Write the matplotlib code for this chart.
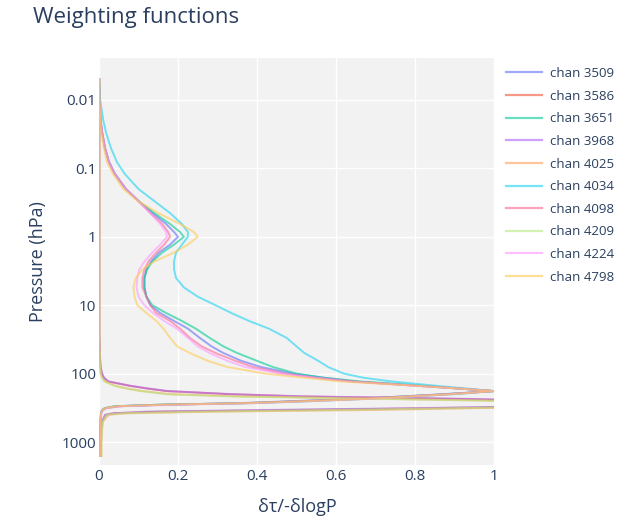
import matplotlib
matplotlib.use("Agg")
import matplotlib.pyplot as plt
from matplotlib.lines import Line2D

plt.rcParams['font.family'] = ['Open Sans', 'DejaVu Sans']

# ---------------- data ----------------
P_LEVELS = [0.005, 0.01, 0.02, 0.03, 0.05, 0.08, 0.12, 0.2, 0.3, 0.45,
            0.65, 0.85, 1.0, 1.3, 1.7, 2.3, 3.0, 4.0, 5.5, 7.5,
            10, 13, 17, 22, 30, 40, 50, 65, 80, 100,
            115, 130, 150, 165, 180, 200, 215, 235, 255, 270,
            285, 300, 320, 340, 360, 380, 400, 500, 700, 1000, 1600]

CHANNELS = ['chan 3509', 'chan 3586', 'chan 3651', 'chan 3968', 'chan 4025',
            'chan 4034', 'chan 4098', 'chan 4209', 'chan 4224', 'chan 4798']

chan_3509 = [0.0, 0.001, 0.004, 0.008, 0.015, 0.025, 0.04, 0.068, 0.10, 0.135,
             0.17, 0.19, 0.20, 0.18, 0.152, 0.132, 0.12, 0.115, 0.115, 0.12,
             0.13, 0.155, 0.19, 0.225, 0.255, 0.285, 0.315, 0.36, 0.41, 0.49,
             0.57, 0.645, 0.80, 0.91, 1.0, 0.87, 0.77, 0.64, 0.47, 0.36,
             0.17, 0.05, 0.018, 0.01, 0.007, 0.006, 0.005, 0.004, 0.004, 0.004, 0.004]

chan_3586 = [0.001, 0.001, 0.001, 0.001, 0.001, 0.001, 0.001, 0.001, 0.001, 0.001,
             0.001, 0.001, 0.001, 0.001, 0.001, 0.001, 0.001, 0.001, 0.001, 0.001,
             0.001, 0.001, 0.001, 0.001, 0.001, 0.002, 0.002, 0.003, 0.004, 0.007,
             0.012, 0.022, 0.075, 0.12, 0.17, 0.33, 0.50, 0.92, 1.2, 1.3,
             1.3, 1.15, 0.85, 0.5, 0.15, 0.04, 0.018, 0.008, 0.006, 0.005, 0.005]

chan_3651 = [0.0, 0.001, 0.004, 0.008, 0.015, 0.025, 0.04, 0.068, 0.10, 0.14,
             0.18, 0.205, 0.215, 0.19, 0.16, 0.135, 0.122, 0.115, 0.115, 0.12,
             0.135, 0.17, 0.21, 0.245, 0.28, 0.315, 0.35, 0.40, 0.44, 0.50,
             0.57, 0.66, 0.82, 0.91, 1.0, 0.88, 0.78, 0.66, 0.50, 0.37,
             0.15, 0.04, 0.014, 0.008, 0.006, 0.005, 0.005, 0.004, 0.004, 0.003, 0.003]

chan_3968 = [0.001, 0.001, 0.001, 0.001, 0.001, 0.001, 0.001, 0.001, 0.001, 0.001,
             0.001, 0.001, 0.001, 0.001, 0.001, 0.001, 0.001, 0.001, 0.001, 0.001,
             0.001, 0.001, 0.001, 0.001, 0.001, 0.002, 0.002, 0.003, 0.004, 0.008,
             0.013, 0.024, 0.078, 0.125, 0.175, 0.34, 0.52, 0.95, 1.2, 1.3,
             1.25, 1.1, 0.8, 0.42, 0.12, 0.035, 0.015, 0.008, 0.006, 0.005, 0.005]

chan_4025 = [0.001, 0.001, 0.001, 0.001, 0.001, 0.001, 0.001, 0.001, 0.001, 0.001,
             0.001, 0.001, 0.001, 0.001, 0.001, 0.001, 0.001, 0.001, 0.001, 0.001,
             0.001, 0.001, 0.001, 0.001, 0.001, 0.001, 0.002, 0.002, 0.003, 0.004,
             0.008, 0.015, 0.04, 0.07, 0.11, 0.18, 0.35, 0.75, 1.1, 1.3,
             1.35, 1.25, 0.95, 0.7, 0.3, 0.07, 0.025, 0.01, 0.007, 0.006, 0.006]

chan_4034 = [0.0, 0.003, 0.011, 0.018, 0.03, 0.045, 0.065, 0.10, 0.14, 0.18,
             0.21, 0.225, 0.225, 0.21, 0.195, 0.19, 0.19, 0.195, 0.215, 0.25,
             0.295, 0.335, 0.38, 0.43, 0.475, 0.50, 0.52, 0.555, 0.58, 0.62,
             0.67, 0.74, 0.85, 0.93, 1.0, 0.90, 0.80, 0.67, 0.52, 0.39,
             0.15, 0.04, 0.015, 0.008, 0.006, 0.005, 0.004, 0.004, 0.003, 0.003, 0.003]

chan_4098 = [0.0, 0.001, 0.004, 0.008, 0.015, 0.025, 0.04, 0.068, 0.10, 0.13,
             0.16, 0.175, 0.18, 0.165, 0.145, 0.125, 0.115, 0.11, 0.11, 0.12,
             0.13, 0.145, 0.18, 0.205, 0.23, 0.26, 0.295, 0.345, 0.39, 0.47,
             0.55, 0.64, 0.80, 0.91, 1.0, 0.88, 0.78, 0.65, 0.49, 0.37,
             0.16, 0.045, 0.016, 0.009, 0.006, 0.005, 0.005, 0.004, 0.004, 0.003, 0.003]

chan_4209 = [0.001, 0.001, 0.001, 0.001, 0.001, 0.001, 0.001, 0.001, 0.001, 0.001,
             0.001, 0.001, 0.001, 0.001, 0.001, 0.001, 0.001, 0.001, 0.001, 0.001,
             0.001, 0.001, 0.001, 0.001, 0.001, 0.001, 0.002, 0.002, 0.003, 0.004,
             0.007, 0.014, 0.038, 0.068, 0.105, 0.17, 0.33, 0.72, 1.1, 1.3,
             1.35, 1.2, 0.9, 0.6, 0.25, 0.06, 0.02, 0.009, 0.007, 0.006, 0.006]

chan_4224 = [0.0, 0.001, 0.004, 0.008, 0.015, 0.025, 0.04, 0.068, 0.10, 0.13,
             0.155, 0.17, 0.172, 0.155, 0.135, 0.115, 0.102, 0.097, 0.095, 0.10,
             0.115, 0.137, 0.165, 0.197, 0.225, 0.25, 0.28, 0.325, 0.37, 0.46,
             0.55, 0.63, 0.80, 0.91, 1.0, 0.89, 0.80, 0.68, 0.52, 0.40,
             0.20, 0.06, 0.02, 0.01, 0.007, 0.005, 0.005, 0.004, 0.004, 0.003, 0.003]

chan_4798 = [0.0, 0.001, 0.003, 0.006, 0.012, 0.02, 0.035, 0.062, 0.098, 0.15,
             0.205, 0.24, 0.25, 0.225, 0.19, 0.14, 0.11, 0.093, 0.087, 0.09,
             0.097, 0.12, 0.145, 0.163, 0.18, 0.198, 0.23, 0.275, 0.325, 0.42,
             0.52, 0.61, 0.80, 0.91, 1.0, 0.89, 0.79, 0.67, 0.50, 0.38,
             0.16, 0.045, 0.016, 0.009, 0.006, 0.005, 0.005, 0.004, 0.004, 0.003, 0.003]

SERIES = [chan_3509, chan_3586, chan_3651, chan_3968, chan_4025,
          chan_4034, chan_4098, chan_4209, chan_4224, chan_4798]

X_TICKS = [0, 0.2, 0.4, 0.6, 0.8, 1]
X_TICK_LABELS = ['0', '0.2', '0.4', '0.6', '0.8', '1']
Y_TICKS = [0.01, 0.1, 1, 10, 100, 1000]
Y_TICK_LABELS = ['0.01', '0.1', '1', '10', '100', '1000']

COLORS = ['#636EFA', '#EF553B', '#00CC96', '#AB63FA', '#FFA15A',
          '#19D3F3', '#FF6692', '#B6E880', '#FF97FF', '#FECB52']

TEXT_COLOR = '#2a3f5f'

# ---------------- figure ----------------
W, H = 625, 522
fig = plt.figure(figsize=(W / 100, H / 100), dpi=100)
fig.patch.set_facecolor('white')
ax = fig.add_axes([99 / W, 1 - 465 / H, (494 - 99) / W, (465 - 58) / H])
ax.set_facecolor('#f2f2f2')

for name, vals, col in zip(CHANNELS, SERIES, COLORS):
    ax.plot(vals, P_LEVELS, color=col, alpha=0.6, lw=1.4, label=name,
            solid_joinstyle='round')

ax.set_yscale('log')
ax.set_xlim(0, 1)
ax.set_ylim(10 ** 3.336, 10 ** -2.614)
ax.set_xticks(X_TICKS)
ax.set_xticklabels(X_TICK_LABELS)
ax.set_yticks(Y_TICKS)
ax.set_yticklabels(Y_TICK_LABELS)
ax.minorticks_off()
ax.tick_params(axis='both', length=0, labelsize=11, labelcolor=TEXT_COLOR)
ax.tick_params(axis='x', pad=3)
ax.tick_params(axis='y', pad=2)
ax.grid(True, color='white', lw=1.0)
ax.set_axisbelow(True)
for s in ax.spines.values():
    s.set_visible(False)

fig.text(33 / W, 1 - 17 / H, 'Weighting functions', ha='left', va='center',
         fontsize=16, color=TEXT_COLOR)
fig.text(38 / W, 1 - 262 / H, 'Pressure (hPa)', ha='center', va='center',
         rotation=90, fontsize=13, color=TEXT_COLOR)
fig.text(297 / W, 1 - 507 / H, 'δτ/-δlogP', ha='center', va='center',
         fontsize=13, color=TEXT_COLOR)

handles = [Line2D([0], [0], color=c, alpha=0.6, lw=1.6) for c in COLORS]
leg = fig.legend(handles, CHANNELS, loc='upper left',
                 bbox_to_anchor=(506 / W, 1 - 67 / H), frameon=False,
                 fontsize=9.5, handlelength=2.7, handletextpad=0.6,
                 labelspacing=0.73, borderpad=0, borderaxespad=0)
for t in leg.get_texts():
    t.set_color(TEXT_COLOR)

fig.savefig('out.png', dpi=100)
